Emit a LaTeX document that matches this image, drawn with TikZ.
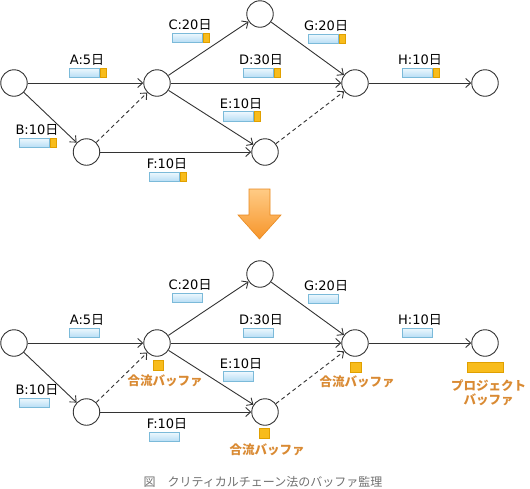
\documentclass[tikz,border=0pt]{standalone}
\usepackage{fontspec}
\usetikzlibrary{arrows.meta}
\newfontfamily\dv{DejaVu Sans}
\newfontfamily\jp{Noto Sans CJK JP}
\newcommand\nichi{{\jp 日}}
\definecolor{lc}{HTML}{333333}
\definecolor{bb}{HTML}{7BBAD9}
\definecolor{bt}{HTML}{EEF8FE}
\definecolor{bbot}{HTML}{B4DCF4}
\definecolor{ob}{HTML}{E0A000}
\definecolor{of}{HTML}{F8BC1C}
\definecolor{otx}{HTML}{D98A33}
\definecolor{cap}{HTML}{707070}
\definecolor{arT}{HTML}{FFCB85}
\definecolor{arB}{HTML}{F7952A}
\definecolor{arD}{HTML}{E8891F}
\tikzset{
 circ/.style={circle, draw=lc, line width=0.9pt, fill=white, minimum size=26.5pt, inner sep=0pt},
 conn/.style={draw=lc, line width=0.9pt, -{Straight Barb[length=5pt,width=9pt]}},
 dconn/.style={conn, dash pattern=on 4pt off 3pt},
 lbl/.style={font=\dv\fontsize{13}{13}\selectfont, inner sep=0pt, text=black},
 bluebar/.style={draw=bb, top color=bt, bottom color=bbot, minimum width=30pt, minimum height=9.5pt, inner sep=0pt, line width=0.8pt},
 buf/.style={draw=ob, fill=of, minimum width=6pt, minimum height=9.5pt, inner sep=0pt, line width=0.8pt},
 buftext/.style={font=\jp\bfseries\fontsize{12.5}{14.5}\selectfont, text=otx, inner sep=0pt, align=center},
}
\newcommand\tsk[5]{%
 \node[bluebar, anchor=west] (#1bar) at (#2,#3) {};
 \ifnum#5=1 \node[buf, anchor=west] (#1buf) at (#1bar.east) {};\fi
 \node[lbl] (#1txt) at (#2+18,#3-13) {#4};
}
\begin{document}
\begin{tikzpicture}[x=1pt,y=-1pt]
\useasboundingbox (0,0) rectangle (530,488);
% ---------- top network ----------
\node[circ] (a1) at (14,83) {};
\node[circ] (a2) at (157,83) {};
\node[circ] (a3) at (260,14) {};
\node[circ] (a4) at (355,83) {};
\node[circ] (a5) at (485,83) {};
\node[circ] (a6) at (86.5,152) {};
\node[circ] (a7) at (265,152) {};
\draw[conn] (a1) -- (a2);
\draw[conn] (a1) -- (a6);
\draw[conn] (a2) -- (a3);
\draw[conn] (a2) -- (a4);
\draw[conn] (a2) -- (a7);
\draw[conn] (a6) -- (a7);
\draw[conn] (a3) -- (a4);
\draw[conn] (a4) -- (a5);
\draw[dconn] (a6) -- (a2);
\draw[dconn] (a7) -- (a4);
\tsk{tA}{69}{73}{A:5\nichi}{1}
\tsk{tB}{19}{143}{B:10\nichi}{1}
\tsk{tC}{172}{38}{C:20\nichi}{1}
\tsk{tD}{243}{73}{D:30\nichi}{1}
\tsk{tE}{223}{116.5}{E:10\nichi}{1}
\tsk{tF}{149}{177}{F:10\nichi}{1}
\tsk{tG}{308}{39}{G:20\nichi}{1}
\tsk{tH}{402}{73}{H:10\nichi}{1}
% ---------- big arrow ----------
\path[top color=arT, bottom color=arB, draw=arD, line width=0.6pt]
 (249,189) -- (270,189) -- (270,215) -- (281,215) -- (259.5,239) -- (238,215) -- (249,215) -- cycle;
% ---------- bottom network ----------
\node[circ] (b1) at (14,343) {};
\node[circ] (b2) at (157,343) {};
\node[circ] (b3) at (260,274) {};
\node[circ] (b4) at (355,343) {};
\node[circ] (b5) at (485,343) {};
\node[circ] (b6) at (86.5,412) {};
\node[circ] (b7) at (265,412) {};
\draw[conn] (b1) -- (b2);
\draw[conn] (b1) -- (b6);
\draw[conn] (b2) -- (b3);
\draw[conn] (b2) -- (b4);
\draw[conn] (b2) -- (b7);
\draw[conn] (b6) -- (b7);
\draw[conn] (b3) -- (b4);
\draw[conn] (b4) -- (b5);
\draw[dconn] (b6) -- (b2);
\draw[dconn] (b7) -- (b4);
\tsk{uA}{69}{333}{A:5\nichi}{0}
\tsk{uB}{19}{403}{B:10\nichi}{0}
\tsk{uC}{172}{298}{C:20\nichi}{0}
\tsk{uD}{243}{333}{D:30\nichi}{0}
\tsk{uE}{223}{376.5}{E:10\nichi}{0}
\tsk{uF}{149}{437}{F:10\nichi}{0}
\tsk{uG}{308}{299}{G:20\nichi}{0}
\tsk{uH}{402}{333}{H:10\nichi}{0}
% buffers
\node[buf, minimum width=10pt, minimum height=10pt] (fb1) at (158,365) {};
\node[buftext] (fb1t) at (165,381) {合流バッファ};
\node[buf, minimum width=10pt, minimum height=9.5pt] (fb2) at (264,433.5) {};
\node[buftext] (fb2t) at (267,450) {合流バッファ};
\node[buf, minimum width=11pt, minimum height=10pt] (fb3) at (356,367) {};
\node[buftext] (fb3t) at (357,382) {合流バッファ};
\node[buf, minimum width=36pt, minimum height=9.5pt] (pb) at (485,367.5) {};
\node[buftext] (pbt) at (488.5,392.5) {プロジェクト\\バッファ};
% caption
\node[font=\jp\fontsize{12}{12}\selectfont, text=cap, inner sep=0pt] (cap) at (263,482) {図　クリティカルチェーン法のバッファ監理};
\end{tikzpicture}
\end{document}
